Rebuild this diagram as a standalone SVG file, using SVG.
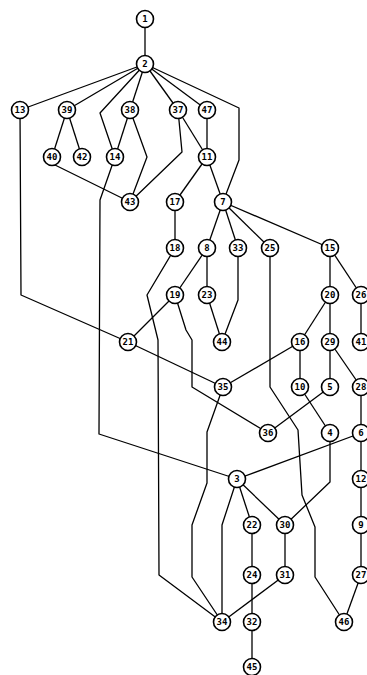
<svg xmlns="http://www.w3.org/2000/svg" width="367" height="675" viewBox="0 0 367 675">
<style>
.e{fill:none;stroke:#000;stroke-width:1.3;stroke-linejoin:round}
.n circle{fill:#fff;stroke:#000;stroke-width:1.6}
.n text{font-family:"DejaVu Sans Mono","Liberation Mono",monospace;font-size:9px;font-weight:bold;text-anchor:middle;dominant-baseline:central;fill:#000}
</style>
<rect width="367" height="675" fill="#fff"/>
<g id="connectors">
<path class="e" d="M145,19L145,64"/>
<path class="e" d="M145,64L20,110"/>
<path class="e" d="M145,64L67,110"/>
<path class="e" d="M145,64L100,113L115,157"/>
<path class="e" d="M145,64L130,110"/>
<path class="e" d="M145,64L178,110"/>
<path class="e" d="M145,64L207,110"/>
<path class="e" d="M145,64L239,108L239,160L223,202"/>
<path class="e" d="M67,110L52,157"/>
<path class="e" d="M67,110L82,157"/>
<path class="e" d="M130,110L115,157"/>
<path class="e" d="M130,110L147,157L130,202"/>
<path class="e" d="M178,110L182,152L130,202"/>
<path class="e" d="M178,110L207,157"/>
<path class="e" d="M52,157L55,165L130,202"/>
<path class="e" d="M115,157L100,200L99,434L237,479"/>
<path class="e" d="M20,110L21,295L128,342"/>
<path class="e" d="M207,110L207,157"/>
<path class="e" d="M207,157L175,202"/>
<path class="e" d="M207,157L223,202"/>
<path class="e" d="M175,202L175,248"/>
<path class="e" d="M175,248L147,295L158,340L159,575L222,622"/>
<path class="e" d="M223,202L207,248"/>
<path class="e" d="M223,202L238,248"/>
<path class="e" d="M223,202L270,248"/>
<path class="e" d="M223,202L330,248"/>
<path class="e" d="M207,248L175,295"/>
<path class="e" d="M207,248L207,295"/>
<path class="e" d="M238,248L238,300L222,342"/>
<path class="e" d="M207,295L222,342"/>
<path class="e" d="M270,248L270,387L298,430L302,495L315,527L315,577L344,622"/>
<path class="e" d="M330,248L330,295"/>
<path class="e" d="M330,248L361,295"/>
<path class="e" d="M330,295L300,342"/>
<path class="e" d="M330,295L330,342"/>
<path class="e" d="M175,295L128,342"/>
<path class="e" d="M175,295L186,330L192,340L192,387L268,433"/>
<path class="e" d="M128,342L223,387"/>
<path class="e" d="M300,342L223,387"/>
<path class="e" d="M300,342L300,387"/>
<path class="e" d="M330,342L330,387"/>
<path class="e" d="M330,342L361,387"/>
<path class="e" d="M361,295L361,342"/>
<path class="e" d="M300,387L330,433"/>
<path class="e" d="M330,387L268,433"/>
<path class="e" d="M361,387L361,433"/>
<path class="e" d="M361,433L237,479"/>
<path class="e" d="M361,433L361,479"/>
<path class="e" d="M330,433L330,482L285,525"/>
<path class="e" d="M223,387L207,432L207,483L192,525L192,577L222,622"/>
<path class="e" d="M237,479L222,525L222,622"/>
<path class="e" d="M237,479L252,525"/>
<path class="e" d="M237,479L285,525"/>
<path class="e" d="M252,525L252,575"/>
<path class="e" d="M252,575L252,622"/>
<path class="e" d="M252,622L252,667"/>
<path class="e" d="M285,525L285,575"/>
<path class="e" d="M285,575L222,622"/>
<path class="e" d="M361,479L361,525"/>
<path class="e" d="M361,525L361,575"/>
<path class="e" d="M361,575L344,622"/>
</g>
<g id="n1" class="n"><circle cx="145" cy="19" r="8.5"/><text x="145" y="19">1</text></g>
<g id="n2" class="n"><circle cx="145" cy="64" r="8.5"/><text x="145" y="64">2</text></g>
<g id="n13" class="n"><circle cx="20" cy="110" r="8.5"/><text x="20" y="110">13</text></g>
<g id="n39" class="n"><circle cx="67" cy="110" r="8.5"/><text x="67" y="110">39</text></g>
<g id="n38" class="n"><circle cx="130" cy="110" r="8.5"/><text x="130" y="110">38</text></g>
<g id="n37" class="n"><circle cx="178" cy="110" r="8.5"/><text x="178" y="110">37</text></g>
<g id="n47" class="n"><circle cx="207" cy="110" r="8.5"/><text x="207" y="110">47</text></g>
<g id="n40" class="n"><circle cx="52" cy="157" r="8.5"/><text x="52" y="157">40</text></g>
<g id="n42" class="n"><circle cx="82" cy="157" r="8.5"/><text x="82" y="157">42</text></g>
<g id="n14" class="n"><circle cx="115" cy="157" r="8.5"/><text x="115" y="157">14</text></g>
<g id="n11" class="n"><circle cx="207" cy="157" r="8.5"/><text x="207" y="157">11</text></g>
<g id="n43" class="n"><circle cx="130" cy="202" r="8.5"/><text x="130" y="202">43</text></g>
<g id="n17" class="n"><circle cx="175" cy="202" r="8.5"/><text x="175" y="202">17</text></g>
<g id="n7" class="n"><circle cx="223" cy="202" r="8.5"/><text x="223" y="202">7</text></g>
<g id="n18" class="n"><circle cx="175" cy="248" r="8.5"/><text x="175" y="248">18</text></g>
<g id="n8" class="n"><circle cx="207" cy="248" r="8.5"/><text x="207" y="248">8</text></g>
<g id="n33" class="n"><circle cx="238" cy="248" r="8.5"/><text x="238" y="248">33</text></g>
<g id="n25" class="n"><circle cx="270" cy="248" r="8.5"/><text x="270" y="248">25</text></g>
<g id="n15" class="n"><circle cx="330" cy="248" r="8.5"/><text x="330" y="248">15</text></g>
<g id="n19" class="n"><circle cx="175" cy="295" r="8.5"/><text x="175" y="295">19</text></g>
<g id="n23" class="n"><circle cx="207" cy="295" r="8.5"/><text x="207" y="295">23</text></g>
<g id="n20" class="n"><circle cx="330" cy="295" r="8.5"/><text x="330" y="295">20</text></g>
<g id="n26" class="n"><circle cx="361" cy="295" r="8.5"/><text x="361" y="295">26</text></g>
<g id="n21" class="n"><circle cx="128" cy="342" r="8.5"/><text x="128" y="342">21</text></g>
<g id="n44" class="n"><circle cx="222" cy="342" r="8.5"/><text x="222" y="342">44</text></g>
<g id="n16" class="n"><circle cx="300" cy="342" r="8.5"/><text x="300" y="342">16</text></g>
<g id="n29" class="n"><circle cx="330" cy="342" r="8.5"/><text x="330" y="342">29</text></g>
<g id="n41" class="n"><circle cx="361" cy="342" r="8.5"/><text x="361" y="342">41</text></g>
<g id="n35" class="n"><circle cx="223" cy="387" r="8.5"/><text x="223" y="387">35</text></g>
<g id="n10" class="n"><circle cx="300" cy="387" r="8.5"/><text x="300" y="387">10</text></g>
<g id="n5" class="n"><circle cx="330" cy="387" r="8.5"/><text x="330" y="387">5</text></g>
<g id="n28" class="n"><circle cx="361" cy="387" r="8.5"/><text x="361" y="387">28</text></g>
<g id="n36" class="n"><circle cx="268" cy="433" r="8.5"/><text x="268" y="433">36</text></g>
<g id="n4" class="n"><circle cx="330" cy="433" r="8.5"/><text x="330" y="433">4</text></g>
<g id="n6" class="n"><circle cx="361" cy="433" r="8.5"/><text x="361" y="433">6</text></g>
<g id="n3" class="n"><circle cx="237" cy="479" r="8.5"/><text x="237" y="479">3</text></g>
<g id="n12" class="n"><circle cx="361" cy="479" r="8.5"/><text x="361" y="479">12</text></g>
<g id="n22" class="n"><circle cx="252" cy="525" r="8.5"/><text x="252" y="525">22</text></g>
<g id="n30" class="n"><circle cx="285" cy="525" r="8.5"/><text x="285" y="525">30</text></g>
<g id="n9" class="n"><circle cx="361" cy="525" r="8.5"/><text x="361" y="525">9</text></g>
<g id="n24" class="n"><circle cx="252" cy="575" r="8.5"/><text x="252" y="575">24</text></g>
<g id="n31" class="n"><circle cx="285" cy="575" r="8.5"/><text x="285" y="575">31</text></g>
<g id="n27" class="n"><circle cx="361" cy="575" r="8.5"/><text x="361" y="575">27</text></g>
<g id="n34" class="n"><circle cx="222" cy="622" r="8.5"/><text x="222" y="622">34</text></g>
<g id="n32" class="n"><circle cx="252" cy="622" r="8.5"/><text x="252" y="622">32</text></g>
<g id="n46" class="n"><circle cx="344" cy="622" r="8.5"/><text x="344" y="622">46</text></g>
<g id="n45" class="n"><circle cx="252" cy="667" r="8.5"/><text x="252" y="667">45</text></g>
</svg>
